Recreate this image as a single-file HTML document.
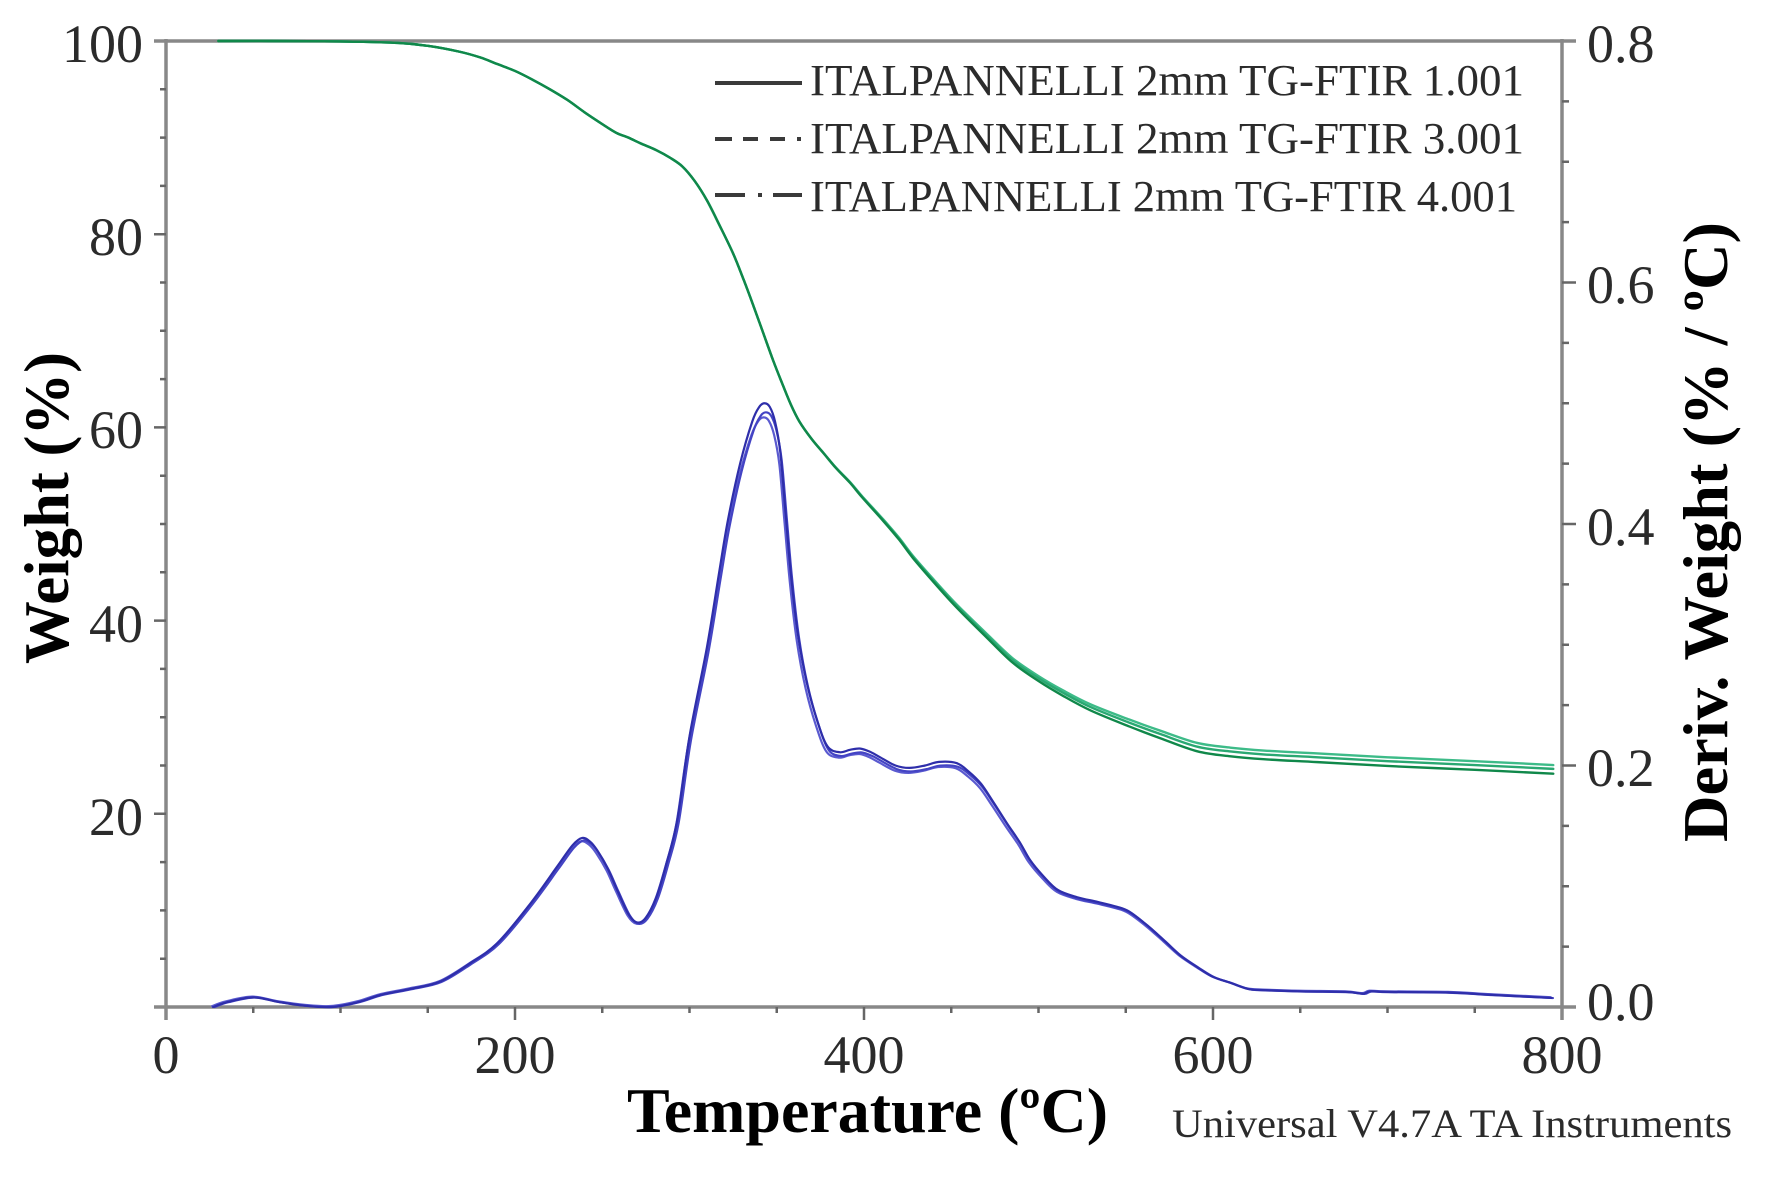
<!DOCTYPE html>
<html>
<head>
<meta charset="utf-8">
<style>
html,body{margin:0;padding:0;background:#fff;}
svg{display:block;}
text{font-family:"Liberation Serif","DejaVu Serif",serif;}
</style>
</head>
<body>
<svg id="chart" width="1779" height="1182" viewBox="0 0 1779 1182" xmlns="http://www.w3.org/2000/svg">
<rect width="1779" height="1182" fill="#fff"/>

<!-- axes frame -->
<g stroke="#888" stroke-width="3.5" fill="none">
  <line x1="154" y1="41" x2="1576" y2="41"/>
  <line x1="166" y1="39" x2="166" y2="1020"/>
  <line x1="1562" y1="39" x2="1562" y2="1020"/>
  <line x1="154" y1="1007" x2="1576" y2="1007"/>
</g>

<!-- ticks -->
<g stroke="#666" stroke-width="2.5" fill="none">
  <!-- left minor -->
  <path d="M160 958.7H166M160 910.4H166M160 862.1H166M160 765.5H166M160 717.2H166M160 668.9H166M160 572.3H166M160 524H166M160 475.7H166M160 379.1H166M160 330.8H166M160 282.5H166M160 185.9H166M160 137.6H166M160 89.3H166"/>
  <!-- left major -->
  <path d="M154 813.8H166M154 620.6H166M154 427.4H166M154 234.2H166"/>
  <!-- right minor -->
  <path d="M1562 946.6H1569M1562 886.3H1569M1562 825.9H1569M1562 705.1H1569M1562 644.8H1569M1562 584.4H1569M1562 463.6H1569M1562 403.3H1569M1562 342.9H1569M1562 222.1H1569M1562 161.8H1569M1562 101.4H1569"/>
  <!-- right major -->
  <path d="M1562 765.5H1576M1562 524H1576M1562 282.5H1576"/>
  <!-- bottom minor -->
  <path d="M253.25 1007V1013M340.5 1007V1013M427.75 1007V1013M602.25 1007V1013M689.5 1007V1013M776.75 1007V1013M951.25 1007V1013M1038.5 1007V1013M1125.75 1007V1013M1300.25 1007V1013M1387.5 1007V1013M1474.75 1007V1013"/>
  <!-- bottom major -->
  <path d="M515 1007V1020M864 1007V1020M1213 1007V1020"/>
</g>

<!-- curves -->
<g id="curves" fill="none" stroke-linejoin="round" stroke-linecap="round"></g>

<!-- left tick labels -->
<g font-size="54" fill="#2b2b2b" text-anchor="end">
  <text x="143" y="62">100</text>
  <text x="143" y="255">80</text>
  <text x="143" y="448">60</text>
  <text x="143" y="642">40</text>
  <text x="143" y="835">20</text>
</g>
<!-- bottom tick labels -->
<g font-size="54" fill="#2b2b2b" text-anchor="middle">
  <text x="166" y="1073">0</text>
  <text x="515" y="1073">200</text>
  <text x="864" y="1073">400</text>
  <text x="1213" y="1073">600</text>
  <text x="1562" y="1073">800</text>
</g>
<!-- right tick labels -->
<g font-size="54" fill="#2b2b2b" text-anchor="start">
  <text x="1587" y="62">0.8</text>
  <text x="1587" y="303">0.6</text>
  <text x="1587" y="545">0.4</text>
  <text x="1587" y="786">0.2</text>
  <text x="1587" y="1020">0.0</text>
</g>

<!-- axis titles -->
<text x="627" y="1132" font-size="64" font-weight="bold" fill="#000" textLength="481" lengthAdjust="spacingAndGlyphs">Temperature (ºC)</text>
<text transform="translate(68,508) rotate(-90)" text-anchor="middle" font-size="64" font-weight="bold" fill="#000" textLength="312" lengthAdjust="spacingAndGlyphs">Weight (%)</text>
<text transform="translate(1727,532) rotate(-90)" text-anchor="middle" font-size="64" font-weight="bold" fill="#000" textLength="620" lengthAdjust="spacingAndGlyphs">Deriv. Weight (% / ºC)</text>
<text x="1172" y="1137" font-size="40" fill="#2b2b2b" textLength="560" lengthAdjust="spacingAndGlyphs">Universal V4.7A TA Instruments</text>

<!-- legend -->
<g stroke="#3a3a3a" stroke-width="4" fill="none">
  <path d="M715 83H802"/>
  <path d="M715 139H732M743 139H758M770 139H785M797 139H801"/>
  <path d="M715 195H745M758 195H762M773 195H802"/>
</g>
<g font-size="44" fill="#2b2b2b">
  <text x="810" y="95" textLength="714" lengthAdjust="spacingAndGlyphs">ITALPANNELLI 2mm TG-FTIR 1.001</text>
  <text x="810" y="153" textLength="714" lengthAdjust="spacingAndGlyphs">ITALPANNELLI 2mm TG-FTIR 3.001</text>
  <text x="810" y="211" textLength="707" lengthAdjust="spacingAndGlyphs">ITALPANNELLI 2mm TG-FTIR 4.001</text>
</g>
</svg>

<script>
(function(){
  var X=function(T){return 166+1.745*T;};
  var YW=function(w){return 1007-9.66*w;};
  var YD=function(d){return 1007-1207.5*d;};

  var tg=[[30,100],[60,100],[100,99.95],[133,99.8],[150,99.5],[168,98.9],[180,98.3],[190,97.6],[200,96.9],[210,96.0],[220,95.0],[230,93.9],[240,92.6],[250,91.4],[258,90.5],[265,90.0],[272,89.4],[281,88.7],[289,87.9],[296,87.0],[303,85.5],[310,83.5],[317,81.0],[325,78.0],[331,75.3],[336,72.9],[342,69.9],[348,66.9],[353,64.6],[358,62.4],[363,60.6],[370,58.8],[377,57.3],[384,55.8],[392,54.3],[399,52.8],[411,50.4],[420,48.5],[428,46.6],[440,44.1],[450,42.1],[457,40.8],[470,38.5],[485,35.9],[500,34.0],[514,32.5],[530,31.0],[552,29.4],[570,28.2],[591,26.9],[610,26.4],[629,26.1],[660,25.8],[700,25.4],[750,25.0],[795,24.6]];

  var dtg=[[27,0.000],[35,0.004],[50,0.008],[65,0.004],[80,0.001],[95,0.000],[110,0.004],[123,0.010],[140,0.015],[157,0.021],[174,0.036],[190,0.053],[209,0.086],[224,0.116],[233,0.134],[238.5,0.140],[243,0.137],[247,0.130],[253,0.115],[258.5,0.097],[265,0.077],[270,0.070],[275,0.074],[281,0.091],[287,0.120],[293,0.155],[300,0.224],[310,0.298],[317,0.36],[322,0.403],[329,0.450],[336,0.485],[340,0.497],[343,0.500],[346,0.497],[349,0.485],[352,0.46],[355,0.41],[358,0.36],[362,0.31],[367,0.27],[373,0.238],[379,0.216],[386,0.211],[392,0.213],[398,0.214],[404,0.211],[409,0.207],[418,0.200],[426,0.198],[435,0.200],[443,0.203],[453,0.202],[460,0.195],[467,0.185],[474,0.170],[482,0.152],[489,0.137],[495,0.122],[503,0.108],[511,0.097],[522,0.091],[534,0.087],[545,0.083],[552,0.079],[562,0.068],[572,0.055],[581,0.043],[591,0.033],[600,0.025],[610,0.020],[620,0.015],[629,0.014],[650,0.013],[676,0.0125],[686,0.011],[690,0.013],[700,0.0125],[735,0.012],[760,0.010],[794,0.0075]];

  function cr(p){
    var s='M'+p[0][0].toFixed(2)+','+p[0][1].toFixed(2);
    for(var i=0;i<p.length-1;i++){
      var p0=p[i-1]||p[i],p1=p[i],p2=p[i+1],p3=p[i+2]||p2;
      var c1x=p1[0]+(p2[0]-p0[0])/6,c1y=p1[1]+(p2[1]-p0[1])/6;
      var c2x=p2[0]-(p3[0]-p1[0])/6,c2y=p2[1]-(p3[1]-p1[1])/6;
      s+=' C'+c1x.toFixed(2)+','+c1y.toFixed(2)+' '+c2x.toFixed(2)+','+c2y.toFixed(2)+' '+p2[0].toFixed(2)+','+p2[1].toFixed(2);
    }
    return s;
  }
  function ramp(T){var f=(T-370)/230;return f<0?0:(f>1?1:f);}

  var g=document.getElementById('curves');
  var NS='http://www.w3.org/2000/svg';
  function add(d,stroke,w,dash){
    var e=document.createElementNS(NS,'path');
    e.setAttribute('d',d);e.setAttribute('stroke',stroke);e.setAttribute('stroke-width',w);
    if(dash)e.setAttribute('stroke-dasharray',dash);
    g.appendChild(e);
  }

  // DTG (blue) three runs
  var b1=dtg.map(function(q){return [X(q[0]),YD(q[1])];});
  var b2=dtg.map(function(q){return [X(q[0]+0.8),YD(q[1]*0.985)];});
  var b3=dtg.map(function(q){return [X(q[0]-0.5),YD(q[1]*0.975+0.0008)];});
  add(cr(b3),'#5a5ad0',2.2);
  add(cr(b2),'#4444c4',2.2);
  add(cr(b1),'#2e2eaa',2.2);

  // TG (green) three runs
  var g1=tg.map(function(q){return [X(q[0]),YW(q[1]-0.45*ramp(q[0]))];});
  var g2=tg.map(function(q){return [X(q[0]),YW(q[1]+0.05*ramp(q[0]))];});
  var g3=tg.map(function(q){return [X(q[0]),YW(q[1]+0.45*ramp(q[0]))];});
  add(cr(g3),'#3dbb88',2.4);
  add(cr(g2),'#2aa872',2.4);
  add(cr(g1),'#10884a',2.4);
})();
</script>
</body>
</html>
